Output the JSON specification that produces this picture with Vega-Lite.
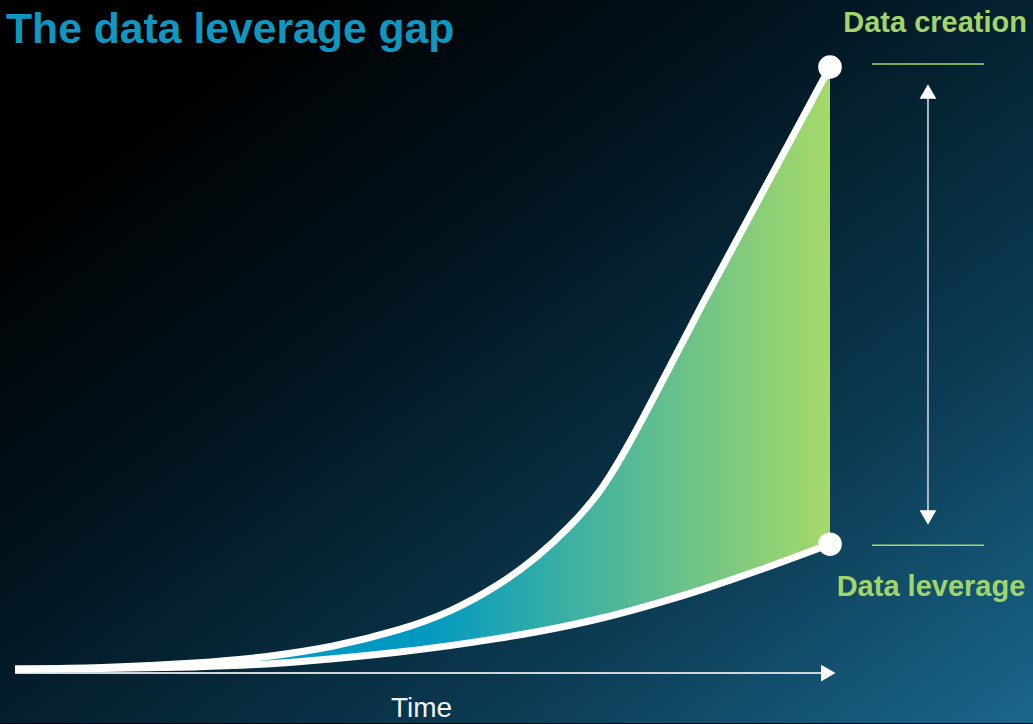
{
  "$schema": "https://vega.github.io/schema/vega-lite/v6.json",
  "autosize": {"type": "fit", "contains": "padding"},
  "width": 1033,
  "height": 724,
  "padding": 0,
  "background": "#000000",
  "config": {
    "view": {
      "stroke": null,
      "fill": {
        "gradient": "linear",
        "x1": 0, "y1": 0.3, "x2": 0.9, "y2": 1.15,
        "stops": [
          {"offset": 0, "color": "#000000"},
          {"offset": 0.3, "color": "#021520"},
          {"offset": 0.65, "color": "#0b3950"},
          {"offset": 1, "color": "#1b6a90"}
        ]
      }
    },
    "text": {"font": "Liberation Sans"}
  },
  "datasets": {
    "curves": [
      {"t": 0, "creation": 0, "leverage": 0},
      {"t": 10.43, "creation": 0.17, "leverage": 0.08},
      {"t": 22.7, "creation": 0.99, "leverage": 0.33},
      {"t": 30.92, "creation": 1.99, "leverage": 0.78},
      {"t": 39.02, "creation": 3.63, "leverage": 1.66},
      {"t": 47.24, "creation": 6.41, "leverage": 2.81},
      {"t": 53.37, "creation": 9.39, "leverage": 3.86},
      {"t": 59.51, "creation": 13.94, "leverage": 5.1},
      {"t": 64.42, "creation": 18.91, "leverage": 6.26},
      {"t": 68.1, "creation": 23.63, "leverage": 7.25},
      {"t": 71.78, "creation": 29.09, "leverage": 8.36},
      {"t": 75.46, "creation": 37.53, "leverage": 9.64},
      {"t": 79.14, "creation": 46.97, "leverage": 11.03},
      {"t": 84.05, "creation": 59.88, "leverage": 13.05},
      {"t": 91.41, "creation": 78.26, "leverage": 16.37},
      {"t": 100, "creation": 99.82, "leverage": 20.7}
    ],
    "one": [{}]
  },
  "layer": [
    {
      "data": {"name": "one"},
      "mark": {"type": "rule", "stroke": "#cfd5da", "strokeWidth": 2},
      "encoding": {
        "x": {"datum": 0, "type": "quantitative", "scale": {"domain": [-1.84, 124.908], "nice": false, "zero": false}, "axis": null},
        "x2": {"datum": 99.79},
        "y": {"datum": -0.66, "type": "quantitative", "scale": {"domain": [-8.94, 110.927], "nice": false, "zero": false}, "axis": null}
      }
    },
    {
      "data": {"name": "one"},
      "mark": {"type": "point", "shape": "triangle-right", "filled": true, "fill": "#ffffff", "opacity": 1, "size": 280, "strokeWidth": 0},
      "encoding": {
        "x": {"datum": 99.79, "type": "quantitative"},
        "y": {"datum": -0.66, "type": "quantitative"}
      }
    },
    {
      "data": {"name": "curves"},
      "mark": {
        "type": "area",
        "interpolate": "basis",
        "fill": {
          "gradient": "linear",
          "x1": 0, "y1": 0, "x2": 1, "y2": 0,
          "stops": [
            {"offset": 0, "color": "#0099c2"},
            {"offset": 0.5, "color": "#0099c2"},
            {"offset": 1, "color": "#a6d96a"}
          ]
        }
      },
      "encoding": {
        "x": {"field": "t", "type": "quantitative"},
        "y": {"field": "creation", "type": "quantitative"},
        "y2": {"field": "leverage"}
      }
    },
    {
      "data": {"name": "curves"},
      "mark": {"type": "line", "interpolate": "basis", "stroke": "#ffffff", "strokeWidth": 7},
      "encoding": {
        "x": {"field": "t", "type": "quantitative"},
        "y": {"field": "leverage", "type": "quantitative"}
      }
    },
    {
      "data": {"name": "curves"},
      "mark": {"type": "line", "interpolate": "basis", "stroke": "#ffffff", "strokeWidth": 7},
      "encoding": {
        "x": {"field": "t", "type": "quantitative"},
        "y": {"field": "creation", "type": "quantitative"}
      }
    },
    {
      "data": {"name": "curves"},
      "transform": [
        {"filter": "datum.t == 100"},
        {"fold": ["creation", "leverage"], "as": ["series", "value"]}
      ],
      "mark": {"type": "point", "shape": "circle", "filled": true, "fill": "#ffffff", "opacity": 1, "size": 560, "strokeWidth": 0},
      "encoding": {
        "x": {"field": "t", "type": "quantitative"},
        "y": {"field": "value", "type": "quantitative"}
      }
    },
    {
      "data": {"name": "one"},
      "mark": {"type": "rule", "stroke": "#a9b8c4", "strokeWidth": 2},
      "encoding": {
        "x": {"datum": 112.02, "type": "quantitative"},
        "y": {"datum": 95.7, "type": "quantitative"},
        "y2": {"datum": 25.17}
      }
    },
    {
      "data": {"name": "one"},
      "mark": {"type": "point", "shape": "triangle-up", "filled": true, "fill": "#ffffff", "opacity": 1, "size": 280, "strokeWidth": 0},
      "encoding": {
        "x": {"datum": 112.02, "type": "quantitative"},
        "y": {"datum": 95.75, "type": "quantitative"}
      }
    },
    {
      "data": {"name": "one"},
      "mark": {"type": "point", "shape": "triangle-down", "filled": true, "fill": "#ffffff", "opacity": 1, "size": 280, "strokeWidth": 0},
      "encoding": {
        "x": {"datum": 112.02, "type": "quantitative"},
        "y": {"datum": 25.12, "type": "quantitative"}
      }
    },
    {
      "data": {"name": "one"},
      "mark": {"type": "rule", "stroke": "#a5d66b", "strokeWidth": 1.5},
      "encoding": {
        "x": {"datum": 105.15, "type": "quantitative"},
        "x2": {"datum": 118.9},
        "y": {"datum": 100.33, "type": "quantitative"}
      }
    },
    {
      "data": {"name": "one"},
      "mark": {"type": "rule", "stroke": "#a5d66b", "strokeWidth": 1.5},
      "encoding": {
        "x": {"datum": 105.15, "type": "quantitative"},
        "x2": {"datum": 118.9},
        "y": {"datum": 20.53, "type": "quantitative"}
      }
    },
    {
      "data": {"name": "one"},
      "mark": {"type": "text", "text": "The data leverage gap", "align": "left", "baseline": "alphabetic", "fontSize": 42.7, "fontWeight": "bold", "fill": "#0f97bf"},
      "encoding": {
        "x": {"datum": -1.1, "type": "quantitative"},
        "y": {"datum": 103.81, "type": "quantitative"}
      }
    },
    {
      "data": {"name": "one"},
      "mark": {"type": "text", "text": "Data creation", "align": "right", "baseline": "alphabetic", "fontSize": 29, "fontWeight": "bold", "fill": "#a3d46b"},
      "encoding": {
        "x": {"datum": 124.17, "type": "quantitative"},
        "y": {"datum": 105.63, "type": "quantitative"}
      }
    },
    {
      "data": {"name": "one"},
      "mark": {"type": "text", "text": "Data leverage", "align": "center", "baseline": "alphabetic", "fontSize": 29, "fontWeight": "bold", "fill": "#a3d46b"},
      "encoding": {
        "x": {"datum": 112.39, "type": "quantitative"},
        "y": {"datum": 12.09, "type": "quantitative"}
      }
    },
    {
      "data": {"name": "one"},
      "mark": {"type": "text", "text": "Time", "align": "center", "baseline": "alphabetic", "fontSize": 28, "fontWeight": "normal", "fill": "#eef2f5"},
      "encoding": {
        "x": {"datum": 49.88, "type": "quantitative"},
        "y": {"datum": -7.95, "type": "quantitative"}
      }
    }
  ]
}
